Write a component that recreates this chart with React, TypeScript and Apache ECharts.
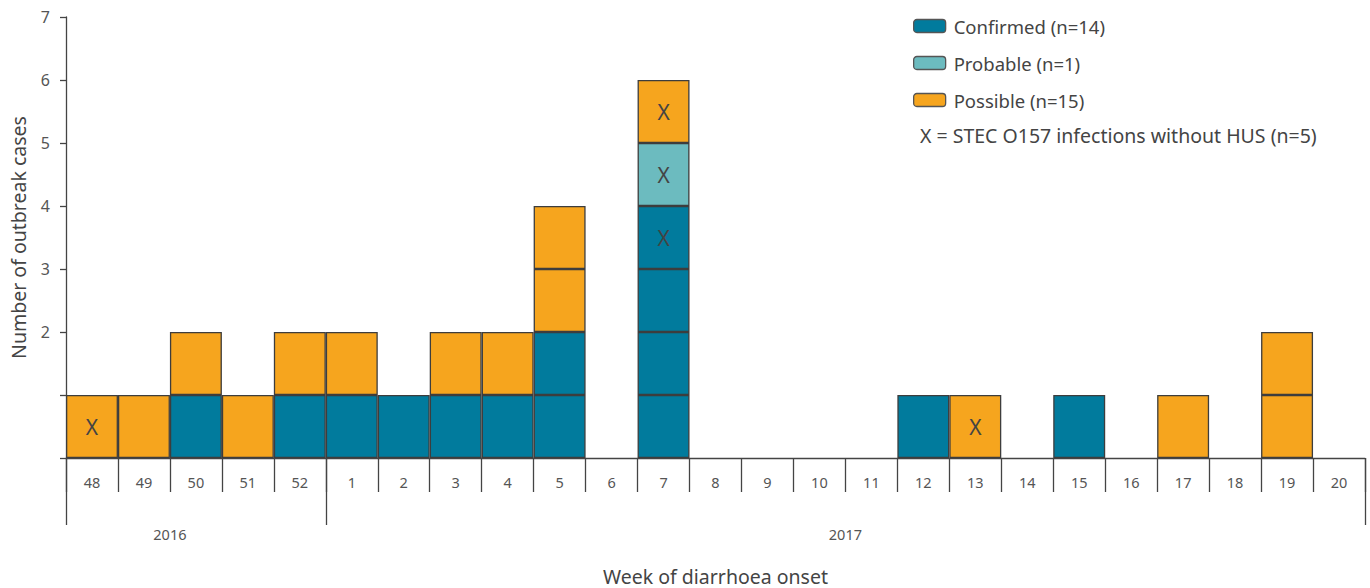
import React, { useEffect, useRef } from "react";
import * as echarts from "echarts";

const weeks = ["48", "49", "50", "51", "52", "1", "2", "3", "4", "5", "6", "7", "8", "9", "10", "11", "12", "13", "14", "15", "16", "17", "18", "19", "20"];
const confirmed = [0, 0, 1, 0, 1, 1, 1, 1, 1, 2, 0, 4, 0, 0, 0, 0, 1, 0, 0, 1, 0, 0, 0, 0, 0];
const probable = [0, 0, 0, 0, 0, 0, 0, 0, 0, 0, 0, 1, 0, 0, 0, 0, 0, 0, 0, 0, 0, 0, 0, 0, 0];
const possible = [1, 1, 1, 1, 1, 1, 0, 1, 1, 2, 0, 1, 0, 0, 0, 0, 0, 1, 0, 0, 0, 1, 0, 2, 0];
// [week, cell index from bottom] marked X = STEC O157 infection without HUS
const xMarks: [string, number][] = [["48", 0], ["7", 3], ["7", 4], ["7", 5], ["13", 0]];
const yearLabels = ["2016", "2017"];
const yearBoundaries = [0, 5, 25];
const yearLabelPos = [2, 15];
const yTicksHidden = [0, 1];

const COLORS = { confirmed: "#017b9d", probable: "#6cbbbf", possible: "#f6a51e" };
const TXT = "#444444";
const FONT = "Noto Sans";

const sum = (a: number[]) => a.reduce((s, v) => s + v, 0);

export default function App() {
  const ref = useRef<HTMLDivElement>(null);
  useEffect(() => {
    if (!ref.current) return;
    const chart = echarts.init(ref.current, undefined, { renderer: "svg" });
    const totals = weeks.map((_, i) => confirmed[i] + probable[i] + possible[i]);
    const maxLayers = Math.max(...totals);
    const cellType = (w: number, k: number) => {
      if (k < confirmed[w]) return "confirmed";
      if (k < confirmed[w] + probable[w]) return "probable";
      return "possible";
    };
    const names = {
      confirmed: `Confirmed (n=${sum(confirmed)})`,
      probable: `Probable (n=${sum(probable)})`,
      possible: `Possible (n=${sum(possible)})`,
    };
    const layers: any[] = [];
    for (let k = 0; k < maxLayers; k++) {
      layers.push({
        type: "bar",
        name: "layer" + k,
        stack: "cases",
        barWidth: "100%",
        barCategoryGap: "0%",
        xAxisIndex: 0,
        yAxisIndex: 0,
        itemStyle: { borderColor: "#3d3d3d", borderWidth: 1.3 },
        data: weeks.map((wk, w) => {
          if (k >= totals[w]) return "-";
          const t = cellType(w, k);
          const marked = xMarks.some(([mw, mk]) => mw === wk && mk === k);
          return {
            value: 1,
            itemStyle: { color: (COLORS as any)[t] },
            label: marked
              ? { show: true, formatter: "X", position: "inside", color: TXT, fontSize: 21, fontFamily: FONT }
              : { show: false },
          };
        }),
      });
    }
    const legendSeries = (["confirmed", "probable", "possible"] as const).map((t) => ({
      type: "bar",
      name: names[t],
      stack: "cases",
      xAxisIndex: 0,
      yAxisIndex: 0,
      data: [],
      itemStyle: { color: COLORS[t], borderColor: "#555", borderWidth: 1.3 },
    }));

    chart.setOption({
      animation: false,
      textStyle: { fontFamily: FONT },
      grid: { left: 66, right: 5, top: 17, bottom: 130, containLabel: false, outerBoundsMode: "none" },
      legend: {
        data: [names.confirmed, names.probable, names.possible],
        orient: "vertical",
        left: 908,
        top: 10,
        itemWidth: 32,
        itemHeight: 13,
        itemGap: 15,
        selectedMode: false,
        textStyle: { fontSize: 18.5, color: TXT, fontFamily: FONT, lineHeight: 22, padding: [0, 0, 0, 3] },
        itemStyle: { borderColor: "#555", borderWidth: 1.3 },
      },
      xAxis: [
        {
          type: "category",
          data: weeks,
          boundaryGap: true,
          name: "Week of diarrhoea onset",
          nameLocation: "middle",
          nameGap: 108,
          nameTextStyle: { fontSize: 19.5, color: TXT, fontFamily: FONT },
          axisLine: { show: true, lineStyle: { color: TXT, width: 1.3 } },
          axisTick: { show: true, interval: 0, length: 34, lineStyle: { color: TXT, width: 1.3 } },
          axisLabel: { interval: 0, margin: 16, fontSize: 14.5, color: "#555", fontFamily: FONT },
          splitLine: { show: false },
        },
        {
          type: "value",
          min: 0,
          max: weeks.length,
          position: "bottom",
          axisLine: { show: false },
          splitLine: { show: false },
          axisTick: { show: true, length: 67, customValues: yearBoundaries, lineStyle: { color: TXT, width: 1.3 } },
          axisLabel: {
            show: true,
            margin: 68,
            customValues: yearLabelPos,
            fontSize: 14.5,
            color: "#555",
            fontFamily: FONT,
            formatter: (v: number) => yearLabels[yearLabelPos.indexOf(v)] ?? "",
          },
        },
      ],
      yAxis: {
        type: "value",
        min: 0,
        max: 7,
        interval: 1,
        name: "Number of outbreak cases",
        nameLocation: "middle",
        nameGap: 38,
        nameTextStyle: { fontSize: 19.5, color: TXT, fontFamily: FONT },
        axisLine: { show: true, lineStyle: { color: TXT, width: 1.3 } },
        axisTick: { show: true, length: 6, lineStyle: { color: TXT, width: 1.3 } },
        axisLabel: {
          margin: 16,
          fontSize: 16,
          color: "#555",
          fontFamily: FONT,
          formatter: (v: number) => (yTicksHidden.includes(v) ? "" : String(v)),
        },
        splitLine: { show: false },
      },
      graphic: [
        {
          type: "text",
          left: 920,
          top: 125,
          style: {
            text: `X = STEC O157 infections without HUS (n=${xMarks.length})`,
            fontSize: 19.5,
            fill: TXT,
            fontFamily: FONT,
          },
        },
      ],
      series: [...layers, ...legendSeries],
    });
    return () => chart.dispose();
  }, []);
  return <div ref={ref} style={{ position: "absolute", left: 0, top: 0, width: 1370, height: 588 }} />;
}
